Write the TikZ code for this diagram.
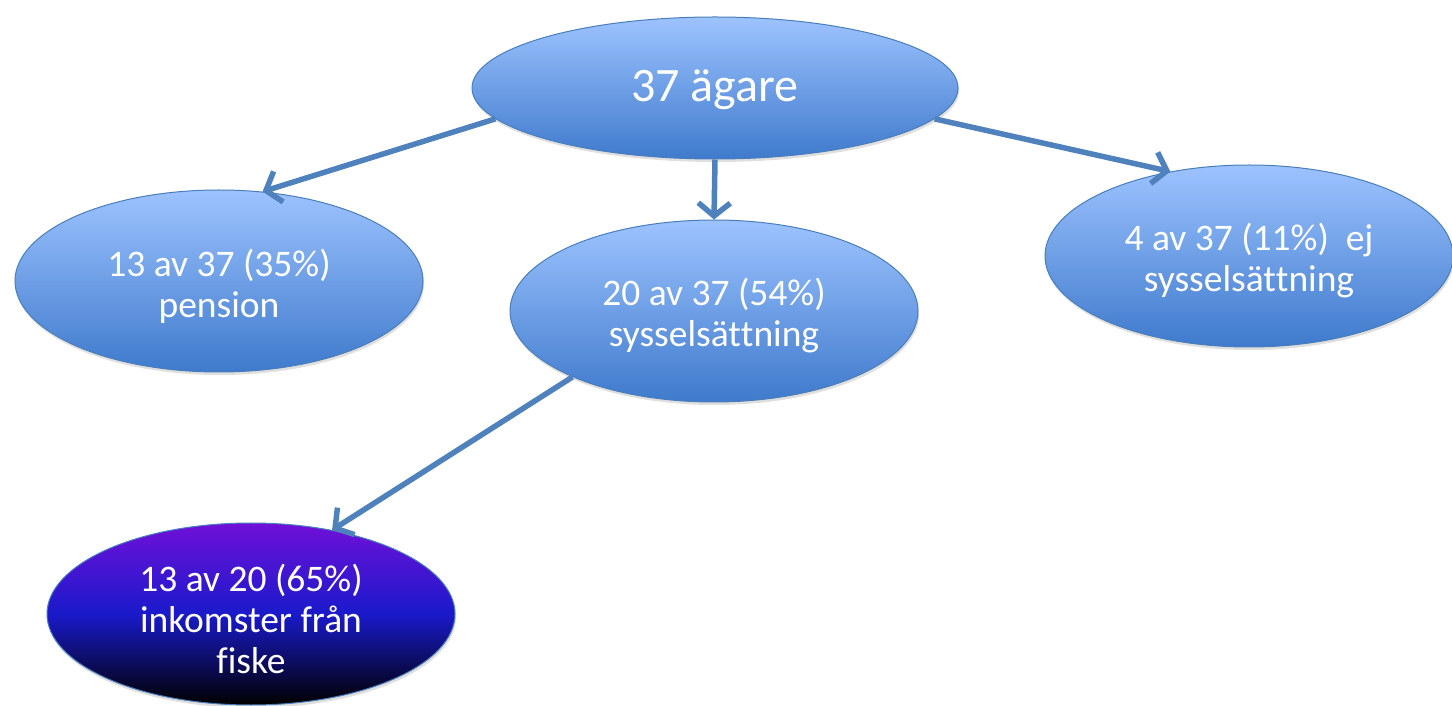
\documentclass[tikz,border=0pt]{standalone}
\usepackage{fontspec}
\setmainfont{Carlito}[Ligatures=NoCommon]
\usetikzlibrary{shapes.geometric,arrows.meta,shadows}

\definecolor{lightblue}{HTML}{9DC3FF}
\definecolor{darkblue}{HTML}{3F7ACC}
\definecolor{edgeblue}{HTML}{4A7EBB}
\definecolor{arrowblue}{HTML}{4F81BD}
\definecolor{violet}{HTML}{7010D8}
\definecolor{royal}{HTML}{1A1ACB}

% keep the two t's apart
\newcommand{\syss}{sysselsät\kern0pt tning}

\begin{document}
\begin{tikzpicture}[x=1pt, y=1pt,
    main/.style = {draw=edgeblue, line width=1pt, ellipse, inner sep=0pt,
      top color=lightblue, bottom color=darkblue,
      minimum width=408pt, minimum height=182pt,
      drop shadow={opacity=0.25, shadow xshift=1pt, shadow yshift=-3pt}},
    fish/.style = {main, top color=violet, bottom color=black, middle color=royal},
    txt/.style = {text=white, align=center, yshift=-5pt,
      font=\fontsize{37.5}{41}\selectfont},
    link/.style = {draw=arrowblue, line width=5.5pt,
      -{Straight Barb[length=13pt, width=32pt, line width=5.5pt]}}]
  \useasboundingbox (0,0) rectangle (1452,705);
  \node[main, minimum width=486pt, minimum height=142pt,
    label={[txt, yshift=3pt, font=\fontsize{48}{52}\selectfont]center:37 ägare}] (1) at (715,617) {};
  \node[main, label={[txt]center:{13 av 37 (35\%)\\pension}}] (2) at (219,424) {};
  \node[main, label={[txt]center:{20 av 37 (54\%)\\\syss}}] (3) at (714,394) {};
  \node[main, label={[txt]center:{4 av 37 (11\%)~~ej\\\syss}}] (4) at (1249,449) {};
  \node[fish, label={[txt]center:{13 av 20 (65\%)\\inkomster från\\fiske}}] (5) at (251,91) {};
  \draw[link] (1.188) -- (2.64);
  \draw[link] (1.south) -- (3.north);
  \draw[link] (1.-8) -- (4.133);
  \draw[link] (3.205) -- (5.46);
\end{tikzpicture}
\end{document}
